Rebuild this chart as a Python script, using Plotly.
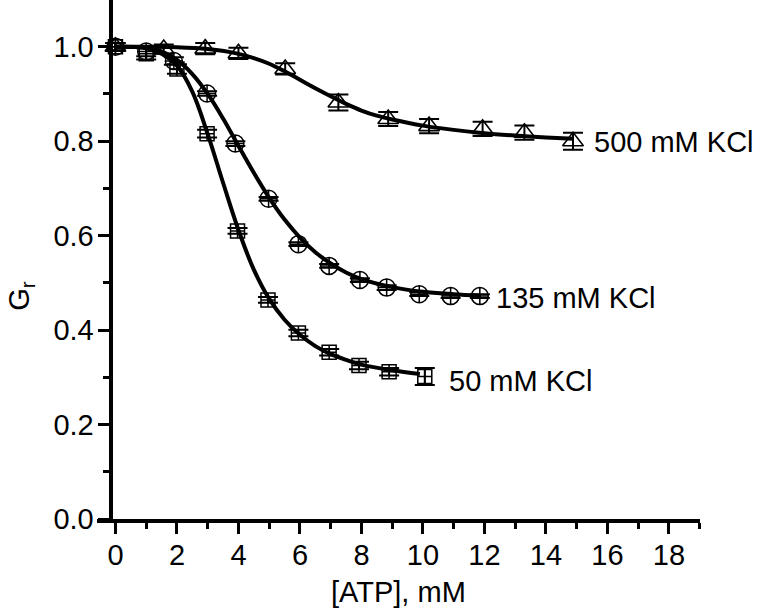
import plotly.graph_objects as go

# ---- data ----
x500 = [0.0, 1.57, 2.92, 4.0, 5.52, 7.25, 8.87, 10.2, 11.94, 13.3, 14.88]
y500 = [1.0, 0.995, 0.996, 0.986, 0.953, 0.882, 0.847, 0.832, 0.826, 0.818, 0.800]
e500 = [0.008, 0.01, 0.012, 0.012, 0.012, 0.017, 0.015, 0.015, 0.015, 0.015, 0.018]

x135 = [0.0, 1.0, 1.9, 2.98, 3.9, 4.98, 5.95, 6.95, 7.95, 8.82, 9.88, 10.9, 11.85]
y135 = [1.0, 0.99, 0.97, 0.901, 0.795, 0.678, 0.582, 0.536, 0.506, 0.490, 0.476, 0.472, 0.472]
e135 = [0.008, 0.01, 0.008, 0.005, 0.005, 0.004, 0.004, 0.004, 0.004, 0.005, 0.004, 0.004, 0.004]

x50 = [0.0, 1.0, 2.0, 2.98, 3.97, 4.96, 5.95, 6.95, 7.92, 8.9, 10.06]
y50 = [1.0, 0.985, 0.953, 0.816, 0.61, 0.464, 0.394, 0.353, 0.325, 0.312, 0.302]
e50 = [0.008, 0.012, 0.01, 0.008, 0.006, 0.006, 0.007, 0.007, 0.008, 0.008, 0.018]

# fitted curves
fit500_x = [0, 1, 2, 3, 4, 4.5, 5, 5.5, 6, 6.5, 7, 7.5, 8, 8.5, 9, 10, 11, 12, 13, 14, 14.9]
fit500_y = [1.0, 1.0, 0.999, 0.995, 0.985, 0.976, 0.964, 0.948, 0.930, 0.912, 0.895, 0.879, 0.865, 0.854, 0.846, 0.833, 0.824, 0.817, 0.812, 0.808, 0.805]

fit135_x = [0, 1, 1.5, 2, 2.5, 3, 3.5, 4, 4.5, 5, 5.5, 6, 6.5, 7, 7.5, 8, 9, 10, 11, 11.85]
fit135_y = [1.0, 0.998, 0.99, 0.972, 0.942, 0.900, 0.848, 0.790, 0.733, 0.680, 0.634, 0.596, 0.565, 0.541, 0.522, 0.508, 0.491, 0.481, 0.476, 0.473]

fit50_x = [0, 1, 1.5, 2, 2.5, 3, 3.5, 4, 4.5, 5, 5.5, 6, 6.5, 7, 7.5, 8, 9, 9.9]
fit50_y = [1.0, 0.997, 0.985, 0.960, 0.905, 0.815, 0.712, 0.612, 0.528, 0.466, 0.422, 0.390, 0.366, 0.349, 0.337, 0.327, 0.315, 0.307]

labels = ["500 mM KCl", "135 mM KCl", "50 mM KCl"]
label_pos = [(15.49, 0.799), (12.3, 0.467), (10.78, 0.293)]

x_ticks = [0, 2, 4, 6, 8, 10, 12, 14, 16, 18]
y_ticks = [0.0, 0.2, 0.4, 0.6, 0.8, 1.0]
y_ticklabels = ["0.0", "0.2", "0.4", "0.6", "0.8", "1.0"]

FONT = "Liberation Sans, Arial, sans-serif"
X_MIN, X_MAX = -0.6, 19.01
Y_AXIS_AT = -0.16

fig = go.Figure()

def err(arr):
    return dict(type="data", array=arr, visible=True, thickness=2, width=10, color="black")

fig.add_trace(go.Scatter(x=x500, y=y500, mode="markers", error_y=err(e500),
                         marker=dict(symbol="triangle-up-open", size=18, color="black",
                                     line=dict(width=1.6, color="black")), showlegend=False))
fig.add_trace(go.Scatter(x=x135, y=y135, mode="markers", error_y=err(e135),
                         marker=dict(symbol="circle-cross-open", size=17, color="black",
                                     line=dict(width=1.5, color="black")), showlegend=False))
fig.add_trace(go.Scatter(x=x50, y=y50, mode="markers", error_y=err(e50),
                         marker=dict(symbol="square-cross-open", size=14, color="black",
                                     line=dict(width=1.5, color="black")), showlegend=False))

for fx, fy in [(fit500_x, fit500_y), (fit135_x, fit135_y), (fit50_x, fit50_y)]:
    fig.add_trace(go.Scatter(x=fx, y=fy, mode="lines", line=dict(color="black", width=4, shape="spline", smoothing=1.0),
                             showlegend=False, hoverinfo="skip"))

for txt, (lx, ly) in zip(labels, label_pos):
    fig.add_annotation(x=lx, y=ly, xref="x", yref="y", text=txt, showarrow=False,
                       xanchor="left", yanchor="middle", font=dict(family=FONT, size=29, color="black"))

# axis titles
fig.add_annotation(x=-0.126, y=0.43, xref="paper", yref="paper", text="G<sub>r</sub>", showarrow=False,
                   textangle=-90, xanchor="center", yanchor="middle", borderpad=0,
                   font=dict(family=FONT, size=29, color="black"))
fig.add_annotation(x=0.5, y=-0.141, xref="paper", yref="paper", text="[ATP], mM", showarrow=False,
                   xanchor="center", yanchor="middle",
                   font=dict(family=FONT, size=29, color="black"))

fig.update_layout(
    width=767, height=616,
    margin=dict(l=97, r=67, t=0, b=97, autoexpand=False),
    paper_bgcolor="white", plot_bgcolor="white",
    font=dict(family=FONT, size=29, color="black"),
    xaxis=dict(range=[X_MIN, X_MAX], showgrid=False, zeroline=False, automargin=False,
               showline=True, linecolor="black", linewidth=4,
               tickmode="array", tickvals=x_ticks, ticktext=[str(v) for v in x_ticks],
               ticks="outside", ticklen=11, tickwidth=3, tickcolor="black",
               ticklabelstandoff=-4,
               minor=dict(dtick=1, tick0=0, ticks="outside", ticklen=6, tickwidth=3, tickcolor="black", showgrid=False),
               tickfont=dict(family=FONT, size=29, color="black")),
    yaxis=dict(range=[0, 1.099], showgrid=False, zeroline=False, automargin=False,
               anchor="free", position=(Y_AXIS_AT - X_MIN) / (X_MAX - X_MIN),
               showline=True, linecolor="black", linewidth=4,
               tickmode="array", tickvals=y_ticks, ticktext=y_ticklabels,
               ticks="outside", ticklen=11, tickwidth=3, tickcolor="black",
               ticklabelstandoff=-2,
               minor=dict(dtick=0.1, tick0=0, ticks="outside", ticklen=6, tickwidth=3, tickcolor="black", showgrid=False),
               tickfont=dict(family=FONT, size=29, color="black")),
)

fig.write_html("out.html", config={"displayModeBar": False},
               post_script="document.body.style.margin='0';document.body.style.padding='0';")
